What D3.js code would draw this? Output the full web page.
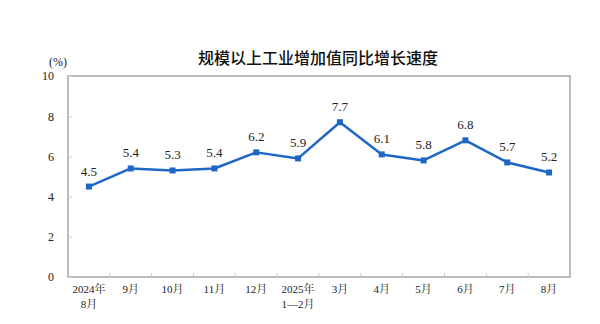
<!DOCTYPE html>
<html>
<head>
<meta charset="utf-8">
<script src="https://cdn.jsdelivr.net/npm/d3@7"></script>
<style>
  html, body { margin: 0; padding: 0; background: #fff; }
  svg { display: block; }
</style>
</head>
<body>
<svg id="chart" width="600" height="324"></svg>
<script>
// Industrial value-added growth, year on year (%)
const categories = ["2024年\n8月", "9月", "10月", "11月", "12月", "2025年\n1—2月", "3月", "4月", "5月", "6月", "7月", "8月"];
const growth = [4.5, 5.4, 5.3, 5.4, 6.2, 5.9, 7.7, 6.1, 5.8, 6.8, 5.7, 5.2];
const yTicks = [0, 2, 4, 6, 8, 10];
const title = "规模以上工业增加值同比增长速度";
const unit = "(%)";

const svg = d3.select("#chart");
const margin = { left: 68, right: 30, top: 76, bottom: 47 };
const W = 600, H = 324;
const x0 = margin.left, x1 = W - margin.right;
const y0 = H - margin.bottom, y1 = margin.top;

const x = d3.scaleBand().domain(d3.range(categories.length)).range([x0, x1]);
const y = d3.scaleLinear().domain([0, 10]).range([y0, y1]);

const serif = "'Liberation Serif', 'Times New Roman', 'Noto Serif CJK SC', serif";
const axisColor = "#a6a6a6";
const lineColor = "#1f67c6";

// Title
svg.append("text")
  .attr("x", 318).attr("y", 64)
  .attr("text-anchor", "middle")
  .attr("font-family", "'Noto Sans CJK SC', sans-serif")
  .attr("font-size", 16)
  .attr("font-weight", 500)
  .attr("fill", "#111")
  .text(title);

// Unit label
svg.append("text")
  .attr("x", 58).attr("y", 66)
  .attr("text-anchor", "middle")
  .attr("font-family", serif)
  .attr("font-size", 12)
  .attr("fill", "#222")
  .text(unit);

// Plot frame
svg.append("rect")
  .attr("x", x0).attr("y", y1)
  .attr("width", x1 - x0).attr("height", y0 - y1)
  .attr("fill", "none")
  .attr("stroke", axisColor)
  .attr("stroke-width", 1.5);

// Y axis
const yAxis = d3.axisLeft(y).tickValues(yTicks).tickSize(-4).tickPadding(14).tickFormat(d3.format("d"));
const gy = svg.append("g").attr("transform", `translate(${x0},0)`).call(yAxis);
gy.select(".domain").remove();
gy.selectAll(".tick line").attr("stroke", "#d0d0d0");
gy.selectAll(".tick text")
  .attr("font-family", serif).attr("font-size", 12).attr("fill", "#222");

// X axis with tick marks on band boundaries
const xAxis = d3.axisBottom(x).tickSize(0).tickPadding(10).tickFormat("");
const gx = svg.append("g").attr("transform", `translate(0,${y0})`).call(xAxis);
gx.select(".domain").remove();
gx.selectAll(".tick").each(function (d) {
  const g = d3.select(this);
  const parts = categories[d].split("\n");
  const t = g.append("text")
    .attr("y", 16)
    .attr("text-anchor", "middle")
    .attr("font-family", serif)
    .attr("font-size", 11)
    .attr("fill", "#222");
  parts.forEach((p, i) => {
    t.append("tspan").attr("x", 0).attr("dy", i === 0 ? 0 : 15).text(p);
  });
});
svg.append("g").selectAll("line")
  .data(d3.range(1, categories.length))
  .join("line")
  .attr("x1", d => x(d)).attr("x2", d => x(d))
  .attr("y1", y0).attr("y2", y0 - 4)
  .attr("stroke", "#c8c8c8");

// Series line
const cx = i => x(i) + x.bandwidth() / 2;
svg.append("path")
  .datum(growth)
  .attr("fill", "none")
  .attr("stroke", lineColor)
  .attr("stroke-width", 2.5)
  .attr("stroke-linejoin", "round")
  .attr("d", d3.line().x((d, i) => cx(i)).y(d => y(d)));

// Square markers
svg.append("g").selectAll("rect")
  .data(growth)
  .join("rect")
  .attr("x", (d, i) => cx(i) - 3)
  .attr("y", d => y(d) - 3)
  .attr("width", 6).attr("height", 6)
  .attr("fill", lineColor);

// Value labels
svg.append("g").selectAll("text")
  .data(growth)
  .join("text")
  .attr("x", (d, i) => cx(i))
  .attr("y", d => y(d) - 11)
  .attr("text-anchor", "middle")
  .attr("font-family", serif)
  .attr("font-size", 13)
  .attr("fill", "#222")
  .text(d => d.toFixed(1));
</script>
</body>
</html>
